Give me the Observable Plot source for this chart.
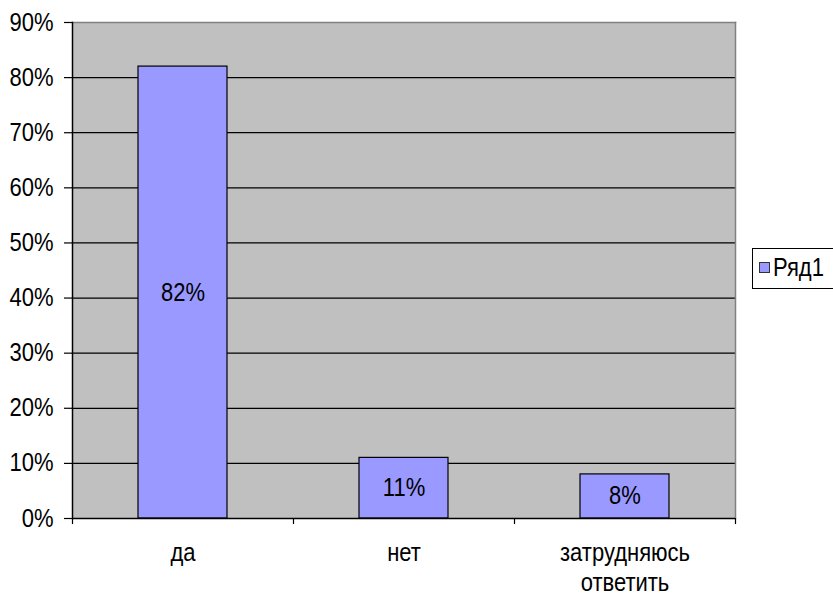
<!DOCTYPE html>
<html>
<head>
<meta charset="utf-8">
<script src="https://cdn.jsdelivr.net/npm/d3@7"></script>
<script src="https://cdn.jsdelivr.net/npm/@observablehq/plot@0.6"></script>
<style>
  body { margin: 0; background: white; font-family: "Liberation Sans", Arial, sans-serif; }
  #wrap { position: relative; width: 833px; height: 602px; overflow: hidden; }
  #legend { position: absolute; left: 752px; top: 248px; width: 92px; height: 41px; border: 1px solid black; box-sizing: border-box; background: white; }
  #legend .sw { position: absolute; left: 6px; top: 13px; width: 11px; height: 11px; background: #9999ff; border: 1px solid #333; box-sizing: border-box; }
  #legend .lb { position: absolute; left: 20px; top: 4px; font-size: 25px; line-height: 28px; color: black; transform: scaleX(0.88); transform-origin: left center; white-space: nowrap; }
</style>
</head>
<body>
<div id="wrap"></div>
<script>
const categories = ["да", "нет", "затрудняюсь ответить"];
const values = [82, 11, 8];
const yTicks = [0, 10, 20, 30, 40, 50, 60, 70, 80, 90];
const gridTicks = [10, 20, 30, 40, 50, 60, 70, 80];
const seriesName = "Ряд1";

const data = categories.map((c, i) => ({category: c, value: values[i]}));
const W = 833, H = 602, mL = 72, mR = 98, mT = 22, mB = 84;
const band = (W - mL - mR) / categories.length;
const FS = 25;

const chart = Plot.plot({
  width: W, height: H,
  marginLeft: mL, marginRight: mR, marginTop: mT, marginBottom: mB,
  style: {fontFamily: "'Liberation Sans', Arial, sans-serif", fontSize: FS + "px", color: "black", background: "white"},
  x: {type: "band", domain: categories, padding: 0, label: null},
  y: {domain: [0, 90], label: null},
  marks: [
    Plot.frame({fill: "#c0c0c0", stroke: null}),
    Plot.ruleY(gridTicks, {stroke: "black", strokeWidth: 1.2}),
    Plot.frame({anchor: "top", stroke: "#808080", strokeWidth: 1.5}),
    Plot.frame({anchor: "right", stroke: "#808080", strokeWidth: 1.5}),
    Plot.barY(data, {x: "category", y: "value", fill: "#9999ff", stroke: "black", strokeWidth: 1.2, insetLeft: 66, insetRight: 66}),
    Plot.text(data, {x: "category", y: d => d.value / 2, text: d => d.value + "%", fill: "black", fontSize: FS}),
    Plot.frame({anchor: "left", stroke: "black", strokeWidth: 1.5}),
    Plot.ruleY([0], {stroke: "black", strokeWidth: 1.5}),
    Plot.ruleX(categories, {x: d => d, y1: 0, y2: -1.1, dx: -band / 2, stroke: "black", strokeWidth: 1.2}),
    Plot.ruleX([categories[categories.length - 1]], {x: d => d, y1: 0, y2: -1.1, dx: band / 2, stroke: "black", strokeWidth: 1.2}),
    Plot.axisY({ticks: yTicks, tickSize: 8, tickPadding: 11, tickFormat: d => d + "%", fontSize: FS, stroke: "black", strokeWidth: 1.2}),
    Plot.axisX({tickSize: 0, tickPadding: 22, fontSize: FS, lineHeight: 1.18, tickFormat: d => d.replace(" ", "\n")})
  ]
});
// Narrow the glyphs horizontally (the reference font is tall and condensed)
chart.querySelectorAll("text").forEach(el => {
  const t = el.getAttribute("transform") || "";
  el.setAttribute("transform", (t + " scale(0.88,1)").trim());
});
const wrap = document.getElementById("wrap");
wrap.appendChild(chart);
const lg = document.createElement("div");
lg.id = "legend";
lg.innerHTML = '<div class="sw"></div><div class="lb">' + seriesName + '</div>';
wrap.appendChild(lg);
</script>
</body>
</html>
